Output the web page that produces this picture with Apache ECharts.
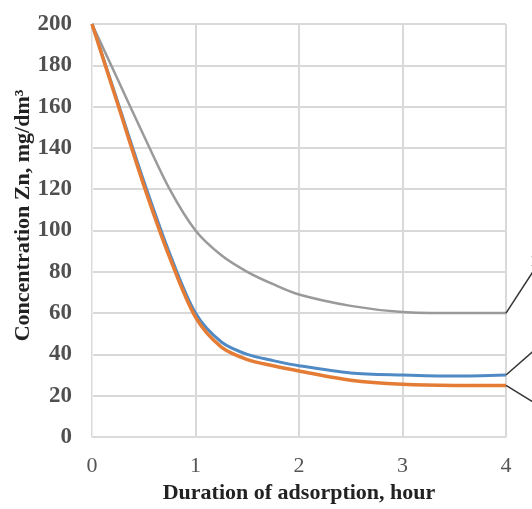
<!DOCTYPE html>
<html>
<head>
<meta charset="utf-8">
<script src="https://cdn.jsdelivr.net/npm/echarts@6/dist/echarts.min.js"></script>
<style>html,body{margin:0;padding:0;background:#fff;}#c{width:532px;height:509px;}</style>
</head>
<body>
<div id="c"></div>
<script>
var hours = [0, 0.25, 0.5, 0.75, 1, 1.25, 1.5, 1.75, 2, 2.5, 3, 3.5, 4];
var seriesNames = ['1', '2', '3'];
var grayValues = [200, 173, 146, 120, 100, 88, 80, 74, 69, 63.5, 60.5, 60, 60];
var blueValues = [200, 162, 124, 89, 60, 46, 40, 37, 34.5, 31, 30, 29.5, 30];
var orangeValues = [200, 161, 122, 87, 58, 43.5, 37.5, 34.5, 32, 27.5, 25.5, 25, 25];
var xTicks = [0, 1, 2, 3, 4];
var yTicks = [0, 20, 40, 60, 80, 100, 120, 140, 160, 180, 200];

var colors = ['#9a9a9a', '#4f8ac4', '#e47c35'];
var widths = [2.5, 3, 3.5];
var leaderPos = [[530, 262], [533, 340], [533, 402]];
var valueSets = [grayValues, blueValues, orangeValues];

function buildData(vals) {
  return hours.map(function (h, i) {
    var item = { value: [h, vals[i]] };
    if (i === hours.length - 1) {
      item.label = { show: true };
      item.labelLine = { show: true };
    }
    return item;
  });
}

var chart = echarts.init(document.getElementById('c'));
chart.setOption({
  animation: false,
  backgroundColor: '#ffffff',
  grid: { left: 92, right: 26, top: 24, bottom: 72, containLabel: false, outerBoundsMode: 'none' },
  xAxis: {
    type: 'value', min: 0, max: 4, interval: 1,
    name: 'Duration of adsorption, hour',
    nameLocation: 'middle', nameGap: 45, nameMoveOverlap: false,
    nameTextStyle: { fontFamily: 'Liberation Serif', fontWeight: 'bold', fontSize: 22, color: '#222' },
    axisLine: { show: true, lineStyle: { color: '#dcdcdc', width: 1.5 } },
    axisTick: { show: false },
    axisLabel: { margin: 18, fontFamily: 'Liberation Serif', fontSize: 22, color: '#555',
      formatter: function (v) { return xTicks.indexOf(v) >= 0 ? String(v) : ''; } },
    splitLine: { show: true, lineStyle: { color: '#d9d9d9', width: 2 } }
  },
  yAxis: {
    type: 'value', min: 0, max: 200, interval: 20,
    name: 'Concentration Zn, mg/dm³',
    nameLocation: 'middle', nameGap: 58, nameMoveOverlap: false,
    nameTextStyle: { fontFamily: 'Liberation Serif', fontWeight: 'bold', fontSize: 22, color: '#222', padding: [0, 0, 0, 30] },
    axisLine: { show: true, lineStyle: { color: '#eeeeee', width: 1 } },
    axisTick: { show: false },
    axisLabel: { margin: 20, fontFamily: 'Liberation Serif', fontWeight: 'bold', fontSize: 23, color: '#505050',
      formatter: function (v) { return yTicks.indexOf(v) >= 0 ? String(v) : ''; } },
    splitLine: { show: true, lineStyle: { color: '#d9d9d9', width: 2 } }
  },
  series: valueSets.map(function (vals, idx) {
    return {
      type: 'line',
      name: seriesNames[idx],
      data: buildData(vals),
      smooth: 0.3,
      showSymbol: true,
      symbol: 'circle',
      symbolSize: 0.01,
      lineStyle: { color: colors[idx], width: widths[idx] },
      itemStyle: { color: colors[idx] },
      label: { show: false, formatter: '{a}', fontSize: 16, fontFamily: 'Liberation Serif', color: '#333', align: 'left', verticalAlign: 'middle' },
      labelLine: { show: false, lineStyle: { color: '#333', width: 1.5 } },
      labelLayout: function () {
        return { x: leaderPos[idx][0], y: leaderPos[idx][1] };
      },
      z: 2 + idx
    };
  })
});
</script>
</body>
</html>
